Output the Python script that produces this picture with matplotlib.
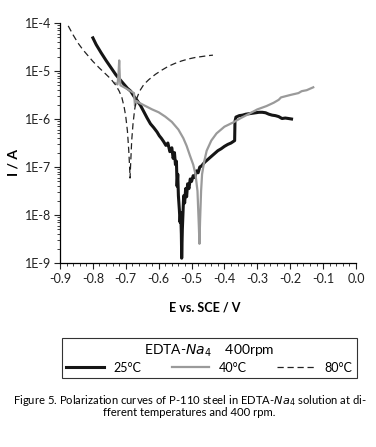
import numpy as np
import matplotlib
matplotlib.use("Agg")
import matplotlib.pyplot as plt
from matplotlib.ticker import LogLocator, MultipleLocator, FixedFormatter, FixedLocator

# ---- data (E in V vs SCE, log10 of I in A) ----
E_25 = [-0.800, -0.790, -0.775, -0.760, -0.745, -0.730, -0.715, -0.705, -0.695, -0.685,
        -0.675, -0.665, -0.655, -0.645, -0.635, -0.625, -0.615, -0.605, -0.598, -0.592,
        -0.585, -0.578, -0.572, -0.566, -0.560, -0.556, -0.552, -0.549, -0.546, -0.544,
        -0.542, -0.540, -0.537, -0.535, -0.533, -0.531, -0.530, -0.528, -0.526, -0.524,
        -0.521, -0.518, -0.515, -0.512, -0.508, -0.504, -0.500, -0.495, -0.490, -0.485,
        -0.480, -0.475, -0.470, -0.460, -0.450, -0.440, -0.430, -0.420, -0.410, -0.400,
        -0.390, -0.380, -0.369, -0.368, -0.365, -0.355, -0.345, -0.335, -0.325, -0.315,
        -0.305, -0.295, -0.285, -0.275, -0.265, -0.255, -0.245, -0.235, -0.225, -0.215,
        -0.205, -0.196]
logI_25 = [-4.31, -4.45, -4.62, -4.78, -4.93, -5.08, -5.20, -5.28, -5.36, -5.42,
           -5.53, -5.62, -5.72, -5.85, -5.98, -6.10, -6.18, -6.27, -6.35, -6.40,
           -6.47, -6.55, -6.50, -6.68, -6.60, -6.82, -6.70, -6.95, -6.88, -7.40,
           -7.15, -7.60, -7.90, -8.15, -7.95, -8.40, -8.90, -8.30, -7.95, -7.60,
           -7.75, -7.45, -7.62, -7.35, -7.45, -7.25, -7.30, -7.18, -7.22, -7.08,
           -7.12, -7.00, -6.98, -6.90, -6.84, -6.78, -6.72, -6.66, -6.62, -6.57,
           -6.53, -6.50, -6.45, -6.05, -5.96, -5.93, -5.92, -5.90, -5.89, -5.88,
           -5.87, -5.86, -5.86, -5.87, -5.90, -5.92, -5.93, -5.95, -5.99, -5.98,
           -5.99, -6.00]

E_40 = [-0.733, -0.725, -0.722, -0.720, -0.718, -0.716, -0.705, -0.695, -0.685, -0.675,
        -0.672, -0.668, -0.660, -0.640, -0.620, -0.600, -0.580, -0.560, -0.540, -0.525,
        -0.515, -0.505, -0.495, -0.488, -0.482, -0.478, -0.476, -0.474, -0.471, -0.468,
        -0.462, -0.454, -0.440, -0.424, -0.400, -0.373, -0.350, -0.322, -0.300, -0.272,
        -0.250, -0.235, -0.228, -0.200, -0.175, -0.165, -0.150, -0.130]
logI_40 = [-5.25, -5.28, -5.05, -4.78, -5.15, -5.30, -5.34, -5.38, -5.42, -5.46,
           -5.72, -5.62, -5.66, -5.73, -5.80, -5.86, -5.95, -6.06, -6.22, -6.40,
           -6.56, -6.76, -6.95, -7.15, -7.50, -8.20, -8.60, -8.10, -7.50, -7.15,
           -6.90, -6.66, -6.45, -6.30, -6.16, -6.07, -5.98, -5.88, -5.80, -5.73,
           -5.66, -5.60, -5.55, -5.50, -5.46, -5.42, -5.40, -5.34]

E_80 = [-0.875, -0.860, -0.845, -0.830, -0.815, -0.800, -0.780, -0.760, -0.745, -0.730,
        -0.720, -0.712, -0.705, -0.700, -0.695, -0.691, -0.688, -0.687, -0.685, -0.682,
        -0.678, -0.673, -0.667, -0.658, -0.645, -0.630, -0.610, -0.590, -0.570, -0.550,
        -0.530, -0.510, -0.490, -0.470, -0.450, -0.435]
logI_80 = [-4.06, -4.25, -4.42, -4.56, -4.68, -4.80, -4.94, -5.07, -5.17, -5.30,
           -5.42, -5.55, -5.75, -5.95, -6.25, -6.65, -7.05, -7.23, -6.90, -6.45,
           -6.10, -5.80, -5.58, -5.42, -5.28, -5.18, -5.07, -4.98, -4.90, -4.84,
           -4.79, -4.75, -4.72, -4.70, -4.68, -4.67]

series_labels = ["25°C", "40°C", "80°C"]
y_ticks = [1e-9, 1e-8, 1e-7, 1e-6, 1e-5, 1e-4]
y_ticklabels = ["1E-9", "1E-8", "1E-7", "1E-6", "1E-5", "1E-4"]
x_ticks = [-0.9, -0.8, -0.7, -0.6, -0.5, -0.4, -0.3, -0.2, -0.1, 0.0]
x_ticklabels = ["-0.9", "-0.8", "-0.7", "-0.6", "-0.5", "-0.4", "-0.3", "-0.2", "-0.1", "0.0"]

plt.rcParams['font.family'] = ['Lato', 'DejaVu Sans']

fig = plt.figure(figsize=(3.76, 4.47), dpi=100)
W, H = 376, 447
ax = fig.add_axes([60 / W, 1 - 263 / H, 296 / W, 240 / H])

l1, = ax.plot(E_25, 10 ** np.array(logI_25), color="#151515", lw=2.2, label=series_labels[0])
l2, = ax.plot(E_40, 10 ** np.array(logI_40), color="#9a9a9a", lw=1.6, label=series_labels[1])
l3, = ax.plot(E_80, 10 ** np.array(logI_80), color="#222222", lw=0.9, ls=(0, (5, 3)), label=series_labels[2])

ax.set_yscale("log")
ax.set_xlim(-0.9, 0.0)
ax.set_ylim(1e-9, 1e-4)
ax.yaxis.set_major_locator(FixedLocator(y_ticks))
ax.yaxis.set_major_formatter(FixedFormatter(y_ticklabels))
ax.yaxis.set_minor_locator(LogLocator(base=10, subs=np.arange(2, 10)))
ax.xaxis.set_major_locator(FixedLocator(x_ticks))
ax.xaxis.set_major_formatter(FixedFormatter(x_ticklabels))
ax.xaxis.set_minor_locator(MultipleLocator(0.05))

for s in ["top", "right"]:
    ax.spines[s].set_visible(False)
for s in ["left", "bottom"]:
    ax.spines[s].set_linewidth(0.9)
ax.tick_params(which="major", direction="out", length=4, width=0.8, labelsize=9, colors="#222222")
ax.tick_params(which="minor", direction="out", length=2.2, width=0.6, colors="#222222")
ax.tick_params(axis="y", which="minor", labelleft=False)
ax.tick_params(axis="y", which="major", pad=2)
ax.minorticks_on()

fig.text(205 / W, 1 - 307 / H, "E vs. SCE / V", ha="center", va="center", fontsize=9, fontweight="bold")
fig.text(14 / W, 1 - 163 / H, "I / A", ha="center", va="center", rotation=90, fontsize=10, fontweight="bold")

leg = fig.legend(handles=[l1, l2, l3], labels=series_labels, ncol=3,
                 title="EDTA-$\\mathit{Na}_{4}$    400rpm",
                 bbox_to_anchor=(62 / W, 1 - 378 / H, 295 / W, 47 / H), mode="expand",
                 loc="lower left", fontsize=9, title_fontsize=10, handlelength=3.0,
                 handletextpad=0.8, borderaxespad=0.0, frameon=True, fancybox=False,
                 borderpad=0.35, labelspacing=0.2, columnspacing=1.0)
leg.get_frame().set_edgecolor("black")
leg.get_frame().set_linewidth(0.8)

fig.text(190 / W, 1 - 400 / H,
         "Figure 5. Polarization curves of P-110 steel in EDTA-$\\mathit{Na}_{4}$ solution at di-",
         ha="center", va="center", fontsize=8.1)
fig.text(189 / W, 1 - 413 / H, "fferent temperatures and 400 rpm.",
         ha="center", va="center", fontsize=8.1)

fig.savefig("out.png", dpi=100)
